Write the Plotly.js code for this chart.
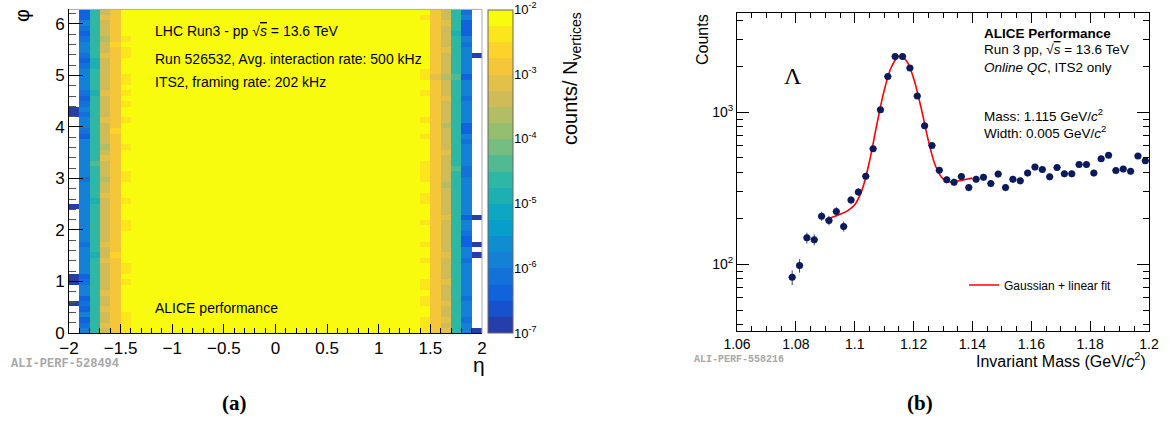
<!DOCTYPE html>
<html>
<head>
<meta charset="utf-8">
<script src="https://cdn.plot.ly/plotly-3.0.1.min.js"></script>
<style>
html,body{margin:0;padding:0;background:#fff;}
#chart{width:1169px;height:421px;}
</style>
</head>
<body>
<div id="chart"></div>
<script>
// ===================== Panel (a): ITS2 occupancy map =====================
const etaEdges = [-2,-1.9,-1.8,-1.7,-1.6,-1.5,-1.4,-1.3,-1.2,-1.1,-1,-0.9,-0.8,-0.7,-0.6,-0.5,-0.4,-0.3,-0.2,-0.1,0,
                  0.1,0.2,0.3,0.4,0.5,0.6,0.7,0.8,0.9,1,1.1,1.2,1.3,1.4,1.5,1.6,1.7,1.8,1.9,2];
const phiBinCount = 60;
const zLogMin = -7, zLogMax = -2, nContours = 20;
// colour band (0..19 -> '0'..'J') of each cell, phi bins from bottom to top in groups of ten, '.' = empty
const bandCode = '0123456789ABCDEFGHIJ';
const colEtaM195 = '.....0...0 0......... ...0...... .......... 00........ ..........';
const colEtaM185 = '4324232443 2444443444 4444444434 4444442344 3432344443 2344323422';
const colEtaM175 = '9999999999 9999899999 9999899999 9A99999999 9999899998 8999999999';
const colEtaM165 = 'EFEEFEEFEE EEEFEEFEEE EEEEEFEEDE EEFEDEEEEF EEEEFEEEEE EFEEDEEEFE';
const colEtaM155 = 'GGGGGGGGGG GGGGHGGGGG GGGGGGGGGG GGGGGGGHGG GGGGGGGGGG GGGHGGGGGG';
const colEtaM145 = 'IIIIJJJJJI JIIJJJJJJI IJJJIJJJII JJJJIJJJJI JJIJIJIIJJ JIIJIJJJJJ';
const colCentral = 'JJJJJJJJJJ JJJJJJJJJJ JJJJJJJJJJ JJJJJJJJJJ JJJJJJJJJJ JJJJJJJJJJ';
const colEtaP145 = 'IIIJJIIJII JJJIJJIJJJ IJJJIIJJII IIJJJJIJJI JJJJIJJIIJ JJJJJJJJIJ';
const colEtaP155 = 'GGGGGGGGGG GGGGGGGGGG GGGGGGGGGG GGGGGGGGGG GGGGGGGFGG GGGGGGGGGG';
const colEtaP165 = 'FEFEEFEEEF EEEEFEEEEE EFEEEEEDEE EEEFEEEEDE EEEFEEEDEE EEFEEEEFEE';
const colEtaP175 = '9999999999 9999999999 9999999999 A999999999 9999999A99 9999989999';
const colEtaP185 = '4434443444 4443442234 4244444443 3444434224 4443444244 4443422243';
const colEtaP195 = '0......... ....0.0... .0........ .......... .......... .0........';
const etaColumns = [colEtaM195, colEtaM185, colEtaM175, colEtaM165, colEtaM155, colEtaM145,
  colCentral, colCentral, colCentral, colCentral, colCentral, colCentral, colCentral,
  colCentral, colCentral, colCentral, colCentral, colCentral, colCentral, colCentral,
  colCentral, colCentral, colCentral, colCentral, colCentral, colCentral, colCentral,
  colCentral, colCentral, colCentral, colCentral, colCentral, colCentral, colCentral,
  colEtaP145, colEtaP155, colEtaP165, colEtaP175, colEtaP185, colEtaP195];
const cbTickVals = [1e-7, 1e-6, 1e-5, 1e-4, 1e-3, 1e-2];
const cbTickText = ['10<sup>-7</sup>','10<sup>-6</sup>','10<sup>-5</sup>','10<sup>-4</sup>','10<sup>-3</sup>','10<sup>-2</sup>'];

// ===================== Panel (b): Lambda invariant mass =====================
const massCenters = [1.07875,1.08125,1.08375,1.08625,1.08875,1.09125,1.09375,1.09625,1.09875,1.10125,
  1.10375,1.10625,1.10875,1.11125,1.11375,1.11625,1.11875,1.12125,1.12375,1.12625,
  1.12875,1.13125,1.13375,1.13625,1.13875,1.14125,1.14375,1.14625,1.14875,1.15125,
  1.15375,1.15625,1.15875,1.16125,1.16375,1.16625,1.16875,1.17125,1.17375,1.17625,
  1.17875,1.18125,1.18375,1.18625,1.18875,1.19125,1.19375,1.19625,1.19875];
const counts = [82,98,149,145,207,194,222,177,264,298,
  379,574,1036,1714,2321,2321,1946,1274,812,603,
  415,359,346,377,319,362,373,339,391,319,
  362,353,397,435,419,375,432,393,393,452,
  452,397,493,521,413,422,409,515,479];
const fitMass = [1.09,1.0925,1.095,1.0975,1.1,1.1025,1.105,1.1075,1.11,1.1125,1.115,
  1.1175,1.12,1.1225,1.125,1.1275,1.13,1.1325,1.135,1.1375,1.14];
const fitCounts = [195,204,213,224,246,308,473,826,1383,1985,2322,
  2182,1666,1077,653,440,364,348,352,360,368];
const countTickVals = [100, 1000];
const countTickText = ['10<sup>2</sup>', '10<sup>3</sup>'];

// ===================== build =====================
const W = 1169, H = 421;
const px = v => v / W;
const py = v => 1 - v / H;

// ROOT kBird palette
const birdStops = [0,0.125,0.25,0.375,0.5,0.625,0.75,0.875,1];
const birdR = [0.2082,0.0592,0.0780,0.0232,0.1802,0.5301,0.8186,0.9956,0.9764];
const birdG = [0.1664,0.3599,0.5041,0.6419,0.7178,0.7492,0.7328,0.7862,0.9832];
const birdB = [0.5293,0.8684,0.8385,0.7914,0.6425,0.4662,0.3499,0.1968,0.0539];
function bird(f) {
  let i = 0;
  while (i < birdStops.length - 2 && f > birdStops[i + 1]) i++;
  const t = (f - birdStops[i]) / (birdStops[i + 1] - birdStops[i]);
  const c = a => Math.round(255 * (a[i] + (a[i + 1] - a[i]) * t));
  return 'rgb(' + c(birdR) + ',' + c(birdG) + ',' + c(birdB) + ')';
}
const colorscale = [];
for (let k = 0; k < nContours; k++) {
  const col = bird((k + 0.99) / nContours);
  colorscale.push([k / nContours, col]);
  colorscale.push([(k + 1) / nContours, col]);
}

const bandWidth = (zLogMax - zLogMin) / nContours;
const cols = etaColumns.map(s => s.replace(/ /g, ''));
const z = [];
for (let r = 0; r < phiBinCount; r++) {
  const row = [];
  for (let c = 0; c < cols.length; c++) {
    const ch = cols[c][r];
    if (ch === '.') { row.push(null); continue; }
    const occupancy = Math.pow(10, zLogMin + (bandCode.indexOf(ch) + 0.5) * bandWidth);
    row.push(Math.log10(occupancy));
  }
  z.push(row);
}
const phiEdges = [];
for (let r = 0; r <= phiBinCount; r++) phiEdges.push(r * 2 * Math.PI / phiBinCount);

const cbMinor = [];
for (let e = -7; e < -2; e++) for (let m = 2; m <= 9; m++) cbMinor.push(m * Math.pow(10, e));
const countMinor = [40,50,60,70,80,90,200,300,400,500,600,700,800,900,2000,3000,4000];

const heat = {
  type: 'heatmap', x: etaEdges, y: phiEdges, z: z, xaxis: 'x', yaxis: 'y',
  zmin: zLogMin, zmax: zLogMax, colorscale: colorscale, zsmooth: false, hoverinfo: 'skip',
  colorbar: {
    x: px(488), xanchor: 'left', xpad: 0, y: py(10), yanchor: 'top', ypad: 0,
    len: 323, lenmode: 'pixels', thickness: 25, thicknessmode: 'pixels',
    outlinewidth: 1, outlinecolor: '#666', showticklabels: false, ticks: ''
  }
};
const cbAxisHolder = { type: 'scatter', x: [], y: [], xaxis: 'x', yaxis: 'y3', showlegend: false, hoverinfo: 'skip' };

const fit = {
  type: 'scatter', mode: 'lines', x: fitMass, y: fitCounts, xaxis: 'x2', yaxis: 'y2',
  name: 'Gaussian + linear fit', line: { color: '#ff0000', width: 1.6, shape: 'spline', smoothing: 1 },
  hoverinfo: 'skip'
};
const dataPts = {
  type: 'scatter', mode: 'markers', x: massCenters, y: counts, xaxis: 'x2', yaxis: 'y2',
  showlegend: false, marker: { color: '#0a1a5c', size: 7 },
  error_y: { type: 'sqrt', color: '#34447f', thickness: 1, width: 0 },
  error_x: { type: 'constant', value: 0.00125, color: '#34447f', thickness: 1, width: 0 },
  hoverinfo: 'skip'
};

const SANS = '"Liberation Sans", Arial, Helvetica, sans-serif';
const SERIF = '"Liberation Serif", "Times New Roman", serif';
const MONO = '"Liberation Mono", "Courier New", monospace';
function ann(text, x, y, o) {
  return Object.assign({ text: text, x: px(x), y: py(y), xref: 'paper', yref: 'paper', showarrow: false,
    xanchor: 'left', yanchor: 'middle', font: { family: SANS, size: 14, color: '#000' } }, o || {});
}
const sqrtS = '\u221A<span style="text-decoration:overline"><i>s</i></span>';

const annotations = [
  ann('LHC Run3 - pp ' + sqrtS + ' = 13.6 TeV', 153, 31),
  ann('Run 526532, Avg. interaction rate: 500 kHz', 153, 58.5),
  ann('ITS2, framing rate: 202 kHz', 153, 82),
  ann('ALICE performance', 153, 308),
  ann('\u03C6', 22, 16, { xanchor: 'center', textangle: -90, font: { family: SANS, size: 20 } }),
  ann('\u03B7', 479, 364, { xanchor: 'center', font: { family: SANS, size: 21 } }),
  ann('counts/ N<sub>vertices</sub>', 572, 79, { xanchor: 'center', textangle: -90, font: { family: SANS, size: 20 } }),
  ann('<b>ALI-PERF-528494</b>', 9, 364, { font: { family: MONO, size: 12, color: '#a8a8a8' } }),
  ann('<b>(a)</b>', 235, 403, { xanchor: 'center', font: { family: SERIF, size: 21 } }),

  ann('<b>ALICE Performance</b>', 982, 33.5, { font: { family: SANS, size: 13.5 } }),
  ann('Run 3 pp, ' + sqrtS + ' = 13.6 TeV', 982, 50, { font: { family: SANS, size: 13.5 } }),
  ann('<i>Online QC</i>, ITS2 only', 982, 68, { font: { family: SANS, size: 13.5 } }),
  ann('Mass: 1.115 GeV/<i>c</i><sup>2</sup>', 982, 114.5, { font: { family: SANS, size: 13.5 } }),
  ann('Width: 0.005 GeV/<i>c</i><sup>2</sup>', 982, 131.5, { font: { family: SANS, size: 13.5 } }),
  ann('\u039B', 793, 76, { xanchor: 'center', font: { family: SERIF, size: 24 } }),
  ann('Counts', 703, 40, { xanchor: 'center', textangle: -90, font: { family: SANS, size: 16 } }),
  ann('Invariant Mass (GeV/<i>c</i><sup>2</sup>)', 1148, 360, { xanchor: 'right', font: { family: SANS, size: 16 } }),
  ann('<b>ALI-PERF-558216</b>', 692, 359, { font: { family: MONO, size: 10, color: '#a8a8a8' } }),
  ann('<b>(b)</b>', 920, 403, { xanchor: 'center', font: { family: SERIF, size: 21 } })
];

const axisCommon = { showgrid: false, zeroline: false, showline: true, linecolor: '#000', linewidth: 1,
  ticks: 'inside', tickcolor: '#000', tickwidth: 1, fixedrange: true };

const layout = {
  width: W, height: H, margin: { l: 0, r: 0, t: 0, b: 0 },
  paper_bgcolor: '#fff', plot_bgcolor: 'rgba(0,0,0,0)',
  font: { family: SANS, color: '#000' },
  showlegend: true,
  legend: { x: px(964), y: py(285), xanchor: 'left', yanchor: 'middle', bgcolor: 'rgba(0,0,0,0)',
    borderwidth: 0, font: { family: SANS, size: 12 } },
  xaxis: Object.assign({}, axisCommon, { domain: [px(69), px(482)], anchor: 'y', range: [-2, 2],
    tickmode: 'linear', tick0: -2, dtick: 0.5, ticklen: 9, tickfont: { size: 17 },
    minor: { ticks: 'inside', tick0: -2, dtick: 0.1, ticklen: 5, tickcolor: '#000' } }),
  yaxis: Object.assign({}, axisCommon, { domain: [py(333), py(9.4)], anchor: 'x', range: [0, 2 * Math.PI],
    tickmode: 'linear', tick0: 0, dtick: 1, ticklen: 14, tickfont: { size: 17 },
    minor: { ticks: 'inside', tick0: 0, dtick: 0.2, ticklen: 7, tickcolor: '#555' } }),
  yaxis3: { overlaying: 'y', anchor: 'free', position: px(513), side: 'right', type: 'log', range: [zLogMin, zLogMax],
    tickmode: 'array', tickvals: cbTickVals, ticktext: cbTickText, ticks: 'inside', ticklen: 14,
    tickcolor: '#000', tickfont: { size: 13 }, showgrid: false, zeroline: false, showline: false, fixedrange: true,
    minor: { tickmode: 'array', tickvals: cbMinor, ticks: 'inside', ticklen: 7, tickcolor: '#000' } },
  xaxis2: Object.assign({}, axisCommon, { domain: [px(737), px(1149)], anchor: 'y2', range: [1.06, 1.2],
    mirror: 'ticks', tickmode: 'linear', tick0: 1.06, dtick: 0.02, ticklen: 10, tickfont: { size: 14 },
    minor: { ticks: 'inside', tick0: 1.06, dtick: 0.005, ticklen: 5, tickcolor: '#000' } }),
  yaxis2: Object.assign({}, axisCommon, { domain: [py(331), py(13)], anchor: 'x2', type: 'log', range: [1.561, 3.651],
    mirror: 'ticks', tickmode: 'array', tickvals: countTickVals, ticktext: countTickText, ticklen: 12,
    tickfont: { size: 14 },
    minor: { tickmode: 'array', tickvals: countMinor, ticks: 'inside', ticklen: 6, tickcolor: '#000' } }),
  shapes: [
    { type: 'line', xref: 'x domain', yref: 'y domain', x0: 0, x1: 1, y0: 1, y1: 1, line: { color: '#aaa', width: 1 } },
    { type: 'line', xref: 'x domain', yref: 'y domain', x0: 1, x1: 1, y0: 0, y1: 1, line: { color: '#aaa', width: 1 } }
  ],
  annotations: annotations
};

Plotly.newPlot('chart', [heat, cbAxisHolder, fit, dataPts], layout, { displayModeBar: false, staticPlot: true });
</script>
</body>
</html>
